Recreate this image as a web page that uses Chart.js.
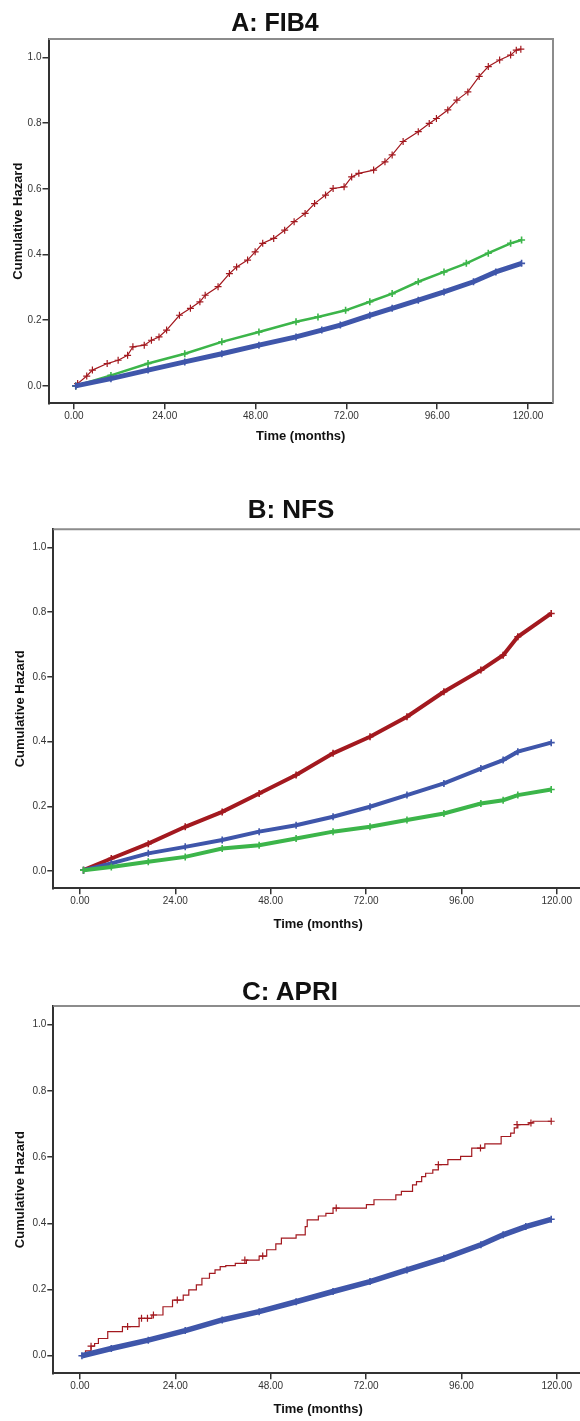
<!DOCTYPE html>
<html>
<head>
<meta charset="utf-8">
<script src="https://cdn.jsdelivr.net/npm/chart.js@4.4.1/dist/chart.umd.min.js"></script>
<style>
  html, body { margin: 0; padding: 0; background: #fff; }
  body { width: 580px; height: 1421px; position: relative; overflow: hidden; font-family: "Liberation Sans", Arial, sans-serif; }
  .panel { position: absolute; left: 0; }
  .title { position: absolute; font-weight: bold; color: #111; white-space: nowrap; transform: translate(-50%, -50%); line-height: 1; }
</style>
</head>
<body>
<div class="panel" style="top:0;width:580px;height:460px"><canvas id="fib4"></canvas></div>
<div class="panel" style="top:470px;width:600px;height:470px"><canvas id="nfs"></canvas></div>
<div class="panel" style="top:940px;width:600px;height:481px"><canvas id="apri"></canvas></div>
<div class="title" style="left:275px;top:22px;font-size:25px">A: FIB4</div>
<div class="title" style="left:291px;top:509px;font-size:26px">B: NFS</div>
<div class="title" style="left:290px;top:991px;font-size:26px">C: APRI</div>
<script>
// axes
const xTicks = [0, 24, 48, 72, 96, 120];
const yTicks = [0, 0.2, 0.4, 0.6, 0.8, 1.0];

// A: FIB4
const fib4RedT = [0.5, 1, 3.4, 4.9, 8.8, 11.7, 14.2, 15.6, 18.6, 20.5, 22.5, 24.5, 27.9, 30.8, 33.3, 34.7, 38.1, 41.1, 43.0, 45.9, 47.9, 49.9, 52.8, 55.7, 58.2, 61.1, 63.6, 66.5, 68.5, 71.4, 73.4, 75.3, 79.2, 82.2, 84.1, 87.0, 91.0, 93.9, 95.8, 98.8, 101.2, 104.1, 107.1, 109.5, 112.5, 115.4, 116.9, 118.1];
const fib4RedH = [0, 0.007, 0.03, 0.048, 0.068, 0.078, 0.093, 0.119, 0.124, 0.139, 0.149, 0.17, 0.215, 0.236, 0.256, 0.276, 0.302, 0.342, 0.362, 0.383, 0.408, 0.434, 0.449, 0.474, 0.5, 0.525, 0.555, 0.581, 0.601, 0.606, 0.636, 0.647, 0.657, 0.682, 0.703, 0.744, 0.774, 0.799, 0.814, 0.84, 0.87, 0.895, 0.942, 0.972, 0.992, 1.007, 1.022, 1.025];
const fib4GreenT = [0.5, 9.8, 19.6, 29.3, 39.1, 48.9, 58.7, 64.5, 71.8, 78.2, 84.1, 91.0, 97.8, 103.7, 109.5, 115.4, 118.3];
const fib4GreenH = [0, 0.032, 0.068, 0.098, 0.134, 0.164, 0.195, 0.21, 0.23, 0.256, 0.281, 0.317, 0.347, 0.373, 0.404, 0.434, 0.444];
const fib4BlueT = [0.5, 9.8, 19.6, 29.3, 39.1, 48.9, 58.7, 65.5, 70.4, 78.2, 84.1, 91.0, 97.8, 105.6, 111.5, 118.3];
const fib4BlueH = [0, 0.022, 0.048, 0.073, 0.098, 0.124, 0.149, 0.17, 0.185, 0.215, 0.236, 0.261, 0.286, 0.317, 0.347, 0.373];

// B: NFS
const nfsT = [0.9, 7.9, 17.2, 26.5, 35.8, 45.1, 54.4, 63.7, 73, 82.3, 91.6, 100.9, 106.5, 110.2, 118.6];
const nfsRedH = [0.003, 0.039, 0.085, 0.137, 0.183, 0.24, 0.297, 0.364, 0.415, 0.477, 0.554, 0.621, 0.667, 0.724, 0.796];
const nfsBlueH = [0.003, 0.024, 0.055, 0.075, 0.096, 0.122, 0.142, 0.168, 0.199, 0.235, 0.271, 0.317, 0.343, 0.369, 0.397];
const nfsGreenH = [0.003, 0.013, 0.029, 0.044, 0.07, 0.08, 0.101, 0.122, 0.137, 0.158, 0.178, 0.209, 0.219, 0.235, 0.252];

// C: APRI (red is a step curve, jumps at these times)
const apriRedT = [0, 1.4, 2.8, 3.7, 4.65, 7.0, 10.7, 14.9, 18.1, 20.9, 23.3, 26.0, 27.4, 29.3, 30.7, 32.6, 34.0, 35.3, 36.7, 39.1, 41.9, 45.1, 47.0, 49.3, 50.7, 54.4, 56.7, 57.2, 60.0, 61.9, 63.7, 72.1, 74.0, 79.5, 80.9, 83.7, 84.7, 86.0, 87.0, 88.8, 90.2, 92.6, 95.8, 98.6, 101.9, 106.0, 108.4, 109.3, 110.2, 113.0, 114.0, 118.6];
const apriRedH = [0, 0.015, 0.029, 0.037, 0.052, 0.073, 0.088, 0.113, 0.123, 0.148, 0.168, 0.183, 0.199, 0.214, 0.234, 0.249, 0.259, 0.269, 0.272, 0.279, 0.289, 0.301, 0.320, 0.338, 0.355, 0.365, 0.390, 0.41, 0.422, 0.43, 0.446, 0.456, 0.471, 0.486, 0.496, 0.516, 0.526, 0.541, 0.551, 0.561, 0.577, 0.592, 0.602, 0.627, 0.64, 0.662, 0.672, 0.688, 0.698, 0.703, 0.708, 0.708];
const apriRedCensorT = [2.8, 12, 15.5, 17, 18.5, 24.5, 41.5, 46, 64.5, 90.2, 100.8, 110, 113.5, 118.6];
const apriRedCensorH = [0.029, 0.088, 0.113, 0.113, 0.123, 0.168, 0.289, 0.301, 0.446, 0.577, 0.627, 0.698, 0.703, 0.708];
const apriBlueT = [0.5, 7.9, 17.2, 26.5, 35.8, 45.1, 54.4, 63.7, 73, 82.3, 91.6, 100.9, 106.5, 112.2, 118.6];
const apriBlueH = [0, 0.022, 0.047, 0.076, 0.108, 0.133, 0.163, 0.194, 0.224, 0.259, 0.294, 0.335, 0.365, 0.39, 0.412];

const RED = '#a3191f', GREEN = '#3cb54a', BLUE = '#3f56aa';
const FONT = '"Liberation Sans", Arial, sans-serif';

function pts(t, h) {
    return t.map((v, i) => ({x: v, y: h[i]}));
}

// grey top/right frame like the SPSS plot box
const frame = {
    id: 'frame',
    afterDraw(chart) {
        const a = chart.chartArea, c = chart.ctx;
        c.save();
        c.strokeStyle = '#8c8c8c';
        c.lineWidth = 2;
        c.beginPath();
        c.moveTo(a.left, a.top);
        c.lineTo(a.right, a.top);
        c.lineTo(a.right, a.bottom);
        c.stroke();
        c.restore();
    }
};

function band(data, color, width, r) {
    return {
        data: data, borderColor: color, backgroundColor: color, borderWidth: width,
        pointStyle: 'cross', pointRadius: r, pointBorderWidth: 1.6, pointBorderColor: color,
        tension: 0, fill: false
    };
}

function makeChart(id, datasets, o) {
    return new Chart(document.getElementById(id), {
        type: 'line',
        data: {datasets: datasets},
        plugins: [frame],
        options: {
            responsive: true,
            maintainAspectRatio: false,
            animation: false,
            events: [],
            layout: {padding: {top: o.top, right: o.right, bottom: 0, left: 0}},
            plugins: {legend: {display: false}, tooltip: {enabled: false}},
            scales: {
                x: {
                    type: 'linear', min: -6.7, max: 126.6,
                    afterBuildTicks: s => { s.ticks = xTicks.map(v => ({value: v})); },
                    afterFit: s => { s.height = o.xh; },
                    ticks: {color: '#333', font: {family: FONT, size: 10}, padding: 1, maxRotation: 0,
                        callback: v => v.toFixed(2)},
                    grid: {drawOnChartArea: false, drawTicks: true, tickLength: 6, color: '#333', lineWidth: 1.5},
                    border: {display: true, color: '#333', width: 2},
                    title: {display: true, text: 'Time (months)', color: '#111',
                        font: {family: FONT, size: 13, weight: 'bold'}, padding: {top: 0, bottom: o.xtp}}
                },
                y: {
                    type: 'linear', min: -0.053, max: 1.056,
                    afterBuildTicks: s => { s.ticks = yTicks.map(v => ({value: v})); },
                    afterFit: s => { s.width = o.yw; },
                    ticks: {color: '#333', font: {family: FONT, size: 10}, padding: 1,
                        callback: v => v.toFixed(1)},
                    grid: {drawOnChartArea: false, drawTicks: true, tickLength: 6, color: '#333', lineWidth: 1.5},
                    border: {display: true, color: '#333', width: 2},
                    title: {display: true, text: 'Cumulative Hazard', color: '#111',
                        font: {family: FONT, size: 13, weight: 'bold'}, padding: {top: o.ytp, bottom: 0}}
                }
            }
        }
    });
}

makeChart('fib4', [
    band(pts(fib4BlueT, fib4BlueH), BLUE, 5, 3.5),
    band(pts(fib4GreenT, fib4GreenH), GREEN, 2.5, 3.5),
    Object.assign(band(pts(fib4RedT, fib4RedH), RED, 1.2, 3.5), {pointBorderWidth: 1.2})
], {top: 39, right: 27, xh: 56.7, yw: 48.5, xtp: 15.5, ytp: 10.7});

makeChart('nfs', [
    band(pts(nfsT, nfsGreenH), GREEN, 4, 3.5),
    band(pts(nfsT, nfsBlueH), BLUE, 4, 3.5),
    band(pts(nfsT, nfsRedH), RED, 4, 3.5)
], {top: 59.3, right: 17, xh: 51.7, yw: 53.3, xtp: 8.2, ytp: 12.2});

makeChart('apri', [
    band(pts(apriBlueT, apriBlueH), BLUE, 5.5, 3.5),
    {data: pts(apriRedT, apriRedH), borderColor: RED, borderWidth: 1.2, stepped: 'before',
        pointRadius: 0, fill: false},
    {data: pts(apriRedCensorT, apriRedCensorH), showLine: false, pointStyle: 'cross',
        pointRadius: 3.5, pointBorderWidth: 1.2, borderColor: RED, backgroundColor: RED}
], {top: 66, right: 17, xh: 47.7, yw: 53.3, xtp: 3.9, ytp: 12.2});
</script>
</body>
</html>
